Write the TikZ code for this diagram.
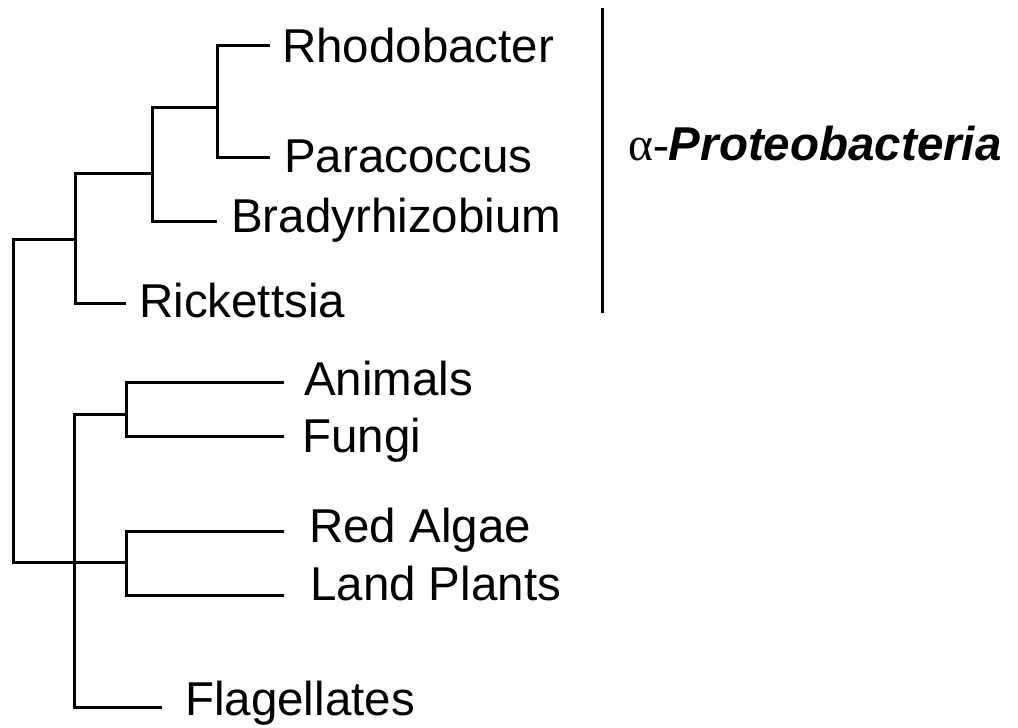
\documentclass[tikz,border=0pt]{standalone}
\usepackage{fontspec}
\setmainfont{Liberation Sans}
\newfontfamily\timesf{Liberation Serif}
\begin{document}
\begin{tikzpicture}[x=1pt,y=-1pt,
  branch/.style={line width=3pt,line cap=rect},
  leaf/.style={anchor=base west,inner sep=0pt,font=\fontsize{47.5}{52}\selectfont}]
\useasboundingbox (0,0) rectangle (1018,728);
% internal nodes
\coordinate (r1) at (13,239);
\coordinate (r2) at (13,562);
\coordinate (a0) at (75,239);
\coordinate (a1) at (75,173);
\coordinate (a2) at (75,303);
\coordinate (b0) at (152,173);
\coordinate (b1) at (152,107);
\coordinate (b2) at (152,221);
\coordinate (c0) at (217,107);
\coordinate (c1) at (217,45);
\coordinate (c2) at (217,157);
\coordinate (e1) at (74,414);
\coordinate (e2) at (74,707);
\coordinate (f0) at (126,414);
\coordinate (f1) at (126,382);
\coordinate (f2) at (126,436);
\coordinate (g0) at (126,562);
\coordinate (g1) at (126,531);
\coordinate (g2) at (126,595);
% leaf ends
\coordinate (lRho) at (268,45);
\coordinate (lPar) at (268,157);
\coordinate (lBra) at (215,221);
\coordinate (lRic) at (124,303);
\coordinate (lAni) at (282,382);
\coordinate (lFun) at (282,436);
\coordinate (lRed) at (282,531);
\coordinate (lLan) at (282,595);
\coordinate (lFla) at (160,707);
% labels
\node[leaf] (Rho) at (282,62) {Rhodobacter};
\node[leaf] (Par) at (284,172) {Paracoccus};
\node[leaf] (Bra) at (231,232) {Bradyrhizobium};
\node[leaf] (Ric) at (139,317) {Rickettsia};
\node[leaf] (Ani) at (304,395) {Animals};
\node[leaf] (Fun) at (302,452) {Fungi};
\node[leaf] (Red) at (309,542) {Red Algae};
\node[leaf] (Lan) at (310,600) {Land Plants};
\node[leaf] (Fla) at (185,715) {Flagellates};
% branches
\draw[branch] (r1) -- (r2);
\draw[branch] (r1) -- (a0);
\draw[branch] (a1) -- (a2);
\draw[branch] (a1) -- (b0);
\draw[branch] (a2) -- (lRic);
\draw[branch] (b1) -- (b2);
\draw[branch] (b1) -- (c0);
\draw[branch] (b2) -- (lBra);
\draw[branch] (c1) -- (c2);
\draw[branch] (c1) -- (lRho);
\draw[branch] (c2) -- (lPar);
\draw[branch] (e1) -- (e2);
\draw[branch] (e1) -- (f0);
\draw[branch] (e2) -- (lFla);
\draw[branch] (f1) -- (f2);
\draw[branch] (f1) -- (lAni);
\draw[branch] (f2) -- (lFun);
\draw[branch] (r2) -- (g0);
\draw[branch] (g1) -- (g2);
\draw[branch] (g1) -- (lRed);
\draw[branch] (g2) -- (lLan);
% group bar
\coordinate (barT) at (602,8);
\coordinate (barB) at (602,313);
\draw[line width=3pt] (barT) -- (barB);
\node[leaf] (alpha) at (628,160) {{\timesf α-}\textbf{\textit{Proteobacteria}}};
\end{tikzpicture}
\end{document}
